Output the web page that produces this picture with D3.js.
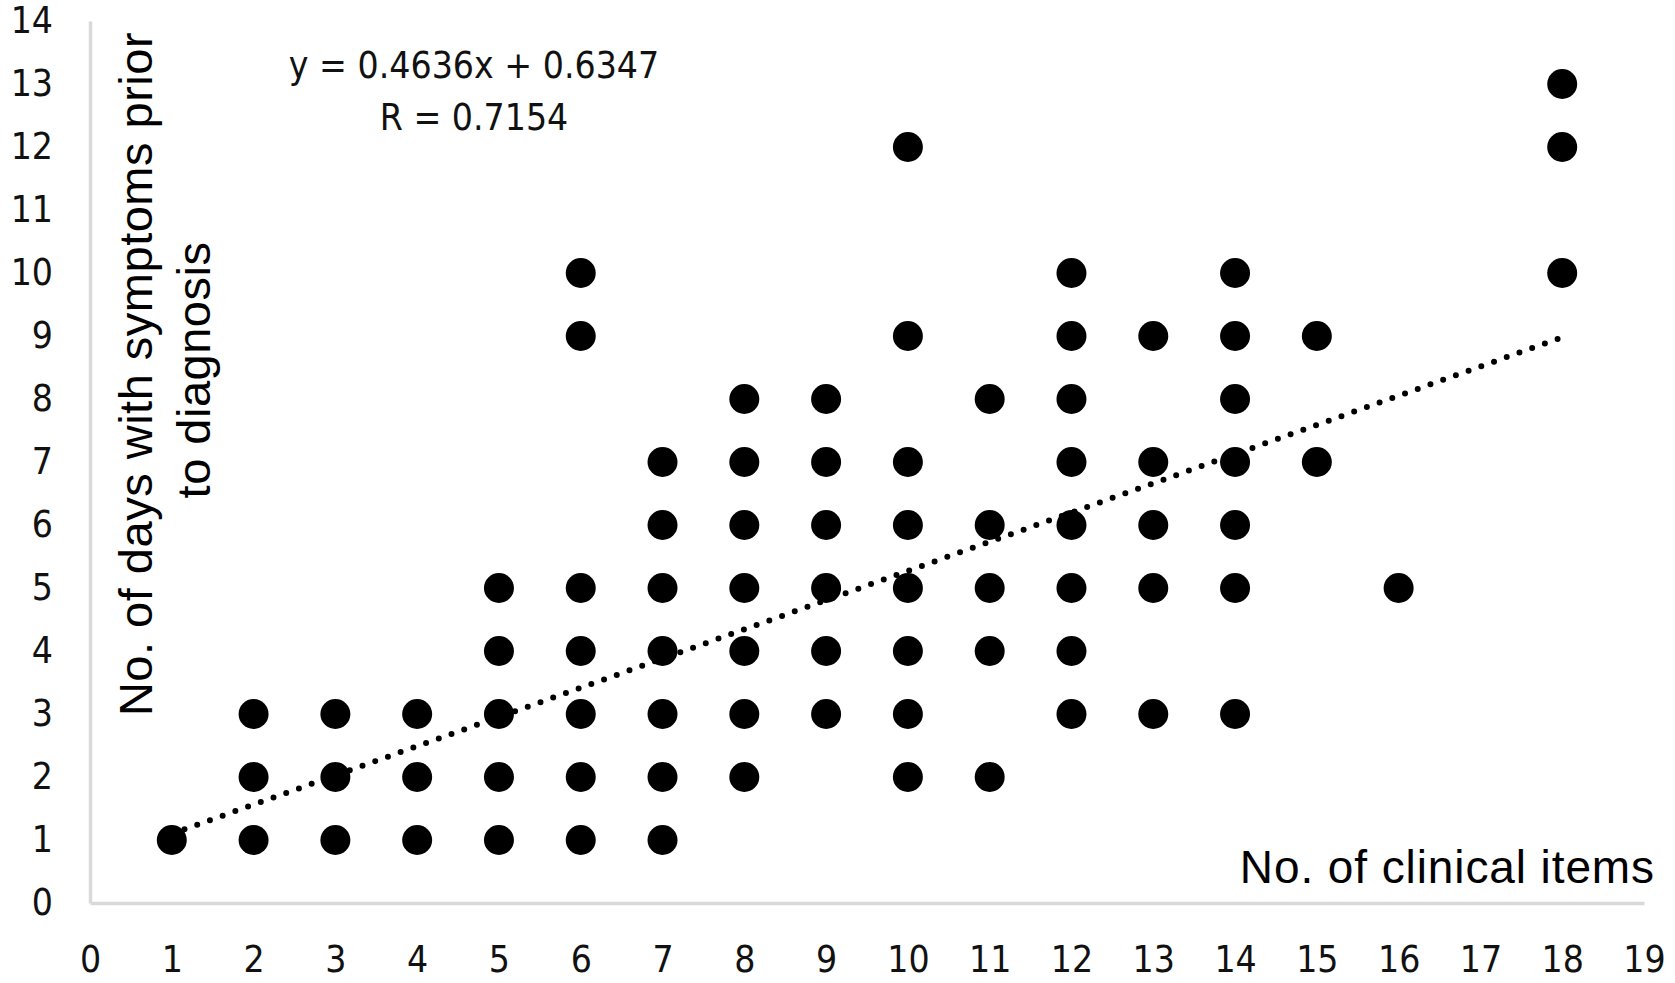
<!DOCTYPE html>
<html>
<head>
<meta charset="utf-8">
<script src="https://cdn.jsdelivr.net/npm/d3@7"></script>
<style>
  html, body { margin: 0; padding: 0; background: #fff; }
  .tick text { font-family: "DejaVu Sans Condensed", "DejaVu Sans", sans-serif; font-stretch: condensed; font-size: 37px; fill: #111; }
  .ttl { font-family: "Liberation Sans", Arial, sans-serif; font-size: 47px; fill: #000; }
  .eq { font-family: "DejaVu Sans Condensed", "DejaVu Sans", sans-serif; font-stretch: condensed; font-size: 37px; fill: #111; }
</style>
</head>
<body>
<div id="chart"></div>
<script>
  // points (no. of clinical items, no. of days)
  var itemsX = [1,
    2, 2, 2,
    3, 3, 3,
    4, 4, 4,
    5, 5, 5, 5, 5,
    6, 6, 6, 6, 6, 6, 6,
    7, 7, 7, 7, 7, 7, 7,
    8, 8, 8, 8, 8, 8, 8,
    9, 9, 9, 9, 9, 9,
    10, 10, 10, 10, 10, 10, 10, 10,
    11, 11, 11, 11, 11,
    12, 12, 12, 12, 12, 12, 12, 12,
    13, 13, 13, 13, 13,
    14, 14, 14, 14, 14, 14, 14,
    15, 15,
    16,
    18, 18, 18];
  var daysY = [1,
    1, 2, 3,
    1, 2, 3,
    1, 2, 3,
    1, 2, 3, 4, 5,
    1, 2, 3, 4, 5, 9, 10,
    1, 2, 3, 4, 5, 6, 7,
    2, 3, 4, 5, 6, 7, 8,
    3, 4, 5, 6, 7, 8,
    2, 3, 4, 5, 6, 7, 9, 12,
    2, 4, 5, 6, 8,
    3, 4, 5, 6, 7, 8, 9, 10,
    3, 5, 6, 7, 9,
    3, 5, 6, 7, 8, 9, 10,
    7, 9,
    5,
    10, 12, 13];

  var xTicks = d3.range(0, 20);
  var yTicks = d3.range(0, 15);

  // linear trend line shown on chart
  var trendCoef = [0.4636, 0.6347];   // slope, intercept
  var trendRange = [1, 18];
  var eqLabels = ["y = 0.4636x + 0.6347", "R = 0.7154"];
  var yTitle = ["No. of days with symptoms prior", "to diagnosis"];
  var xTitle = "No. of clinical items";

  var w = 1675, h = 983;

  var svg = d3.select("#chart").append("svg")
      .attr("width", w)
      .attr("height", h);

  var x = d3.scaleLinear().domain([0, 19]).range([90, 1644]);
  var y = d3.scaleLinear().domain([0, 14]).range([903, 21]);

  // axes
  svg.append("g")
      .attr("transform", "translate(0," + y(0) + ")")
      .call(d3.axisBottom(x).tickValues(xTicks).tickSize(0).tickPadding(43).tickFormat(d3.format("d")));
  svg.append("g")
      .attr("transform", "translate(" + x(0) + ",0)")
      .call(d3.axisLeft(y).tickValues(yTicks).tickSize(0).tickPadding(37).tickFormat(d3.format("d")));

  svg.selectAll(".domain")
      .attr("stroke", "#d9d9d9")
      .attr("stroke-width", 3.5);

  // points
  svg.append("g").selectAll("circle")
      .data(itemsX)
      .enter()
      .append("circle")
      .attr("cx", function(d) { return x(d); })
      .attr("cy", function(d, i) { return y(daysY[i]); })
      .attr("r", 15)
      .attr("fill", "#000");

  // dotted trend line
  var line = d3.line()
      .x(function(d) { return x(d); })
      .y(function(d) { return y(trendCoef[0] * d + trendCoef[1]); });
  svg.append("path")
      .datum(trendRange)
      .attr("d", line)
      .attr("fill", "none")
      .attr("stroke", "#000")
      .attr("stroke-width", 6)
      .attr("stroke-linecap", "round")
      .attr("stroke-dasharray", "0 13.5");

  // equation
  svg.selectAll(".eq")
      .data(eqLabels)
      .enter()
      .append("text")
      .attr("class", "eq")
      .attr("x", 474)
      .attr("y", function(d, i) { return 78 + i * 52; })
      .attr("text-anchor", "middle")
      .text(function(d) { return d; });

  // axis titles
  svg.selectAll(".yt")
      .data(yTitle)
      .enter()
      .append("text")
      .attr("class", "ttl yt")
      .attr("text-anchor", "middle")
      .style("letter-spacing", "0.5px")
      .attr("transform", function(d, i) { return "translate(" + (152 + i * 58) + "," + (374 - i * 4) + ") rotate(-90)"; })
      .text(function(d) { return d; });

  svg.append("text")
      .attr("class", "ttl")
      .attr("x", 1655)
      .attr("y", 883)
      .attr("text-anchor", "end")
      .style("font-size", "46px")
      .style("letter-spacing", "0.9px")
      .text(xTitle);
</script>
</body>
</html>
